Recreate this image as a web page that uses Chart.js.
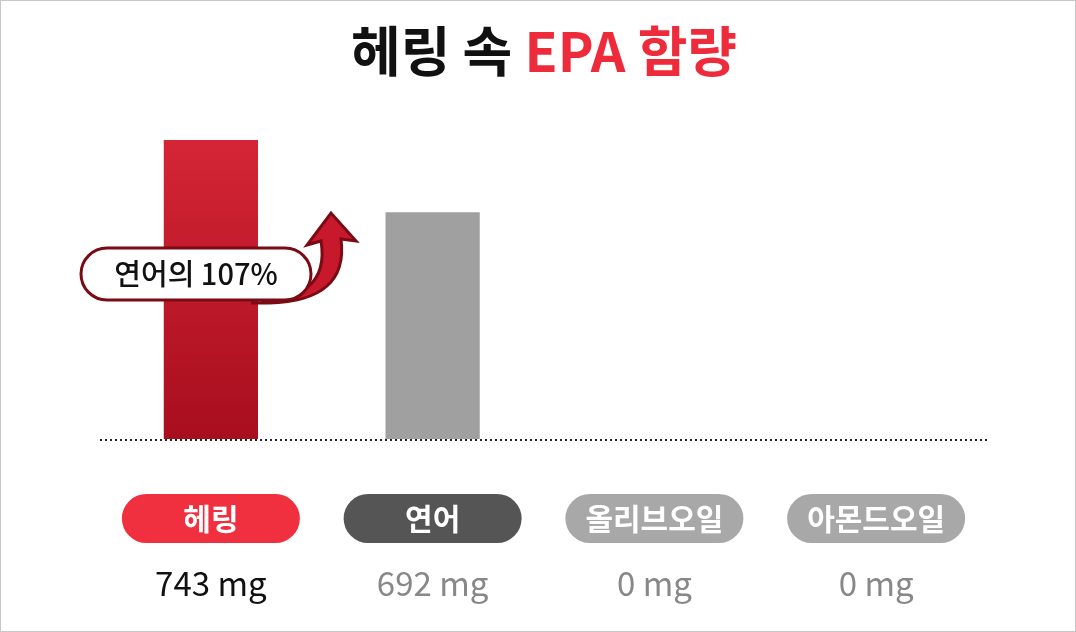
<!DOCTYPE html><html><head><meta charset="utf-8">
<script src="https://cdn.jsdelivr.net/npm/chart.js@4"></script>
<style>html,body{margin:0;background:#fff}#w{position:relative;width:1074px;height:630px;border:1px solid #c8c8c8}</style></head>
<body><div id="w"><canvas id="c" width="1074" height="630"></canvas></div>
<script>
const categories=['헤링','연어','올리브오일','아몬드오일'];
const values=[743,692,0,0];
const valueLabels=['743 mg','692 mg','0 mg','0 mg'];
const calloutText='연어의 107%';
const F='"Noto Sans CJK KR","Noto Sans",sans-serif';
const pillColors=['#f0303f','#555555','#a8a8a8','#a8a8a8'];
const valColors=['#111','#888','#888','#888'];
const deco={id:'deco',afterDraw(ch){
 const c=ch.ctx,x=ch.scales.x,y=ch.scales.y,a=ch.chartArea;
 c.save();
 c.font='bold 54px '+F;c.textBaseline='middle';
 const t1='헤링 속 ',t2='EPA 함량';const w1=c.measureText(t1).width,w2=c.measureText(t2).width;
 let sx=543-(w1+w2)/2;c.fillStyle='#111';c.textAlign='left';c.fillText(t1,sx,50);c.fillStyle='#ee2b3b';c.fillText(t2,sx+w1,50);
 c.strokeStyle='#222';c.lineWidth=2;c.setLineDash([2,3]);c.beginPath();c.moveTo(a.left,y.getPixelForValue(y.min)+1);c.lineTo(a.right,y.getPixelForValue(y.min)+1);c.stroke();c.setLineDash([]);
 categories.forEach((cat,i)=>{const cx=x.getPixelForValue(i);
  c.fillStyle=pillColors[i];c.beginPath();c.roundRect(cx-89,493,178,49,24.5);c.fill();
  c.fillStyle='#fff';c.font='bold 30px '+F;c.textAlign='center';c.fillText(cat,cx,518);
  c.fillStyle=valColors[i];c.font='33px '+F;c.fillText(valueLabels[i],cx,582);});
 c.fillStyle='#c8182b';c.strokeStyle='#7a0a14';c.lineWidth=3;
 c.beginPath();c.moveTo(250,302);c.quadraticCurveTo(330,300,320,240);c.lineTo(306,244);c.lineTo(330,212);c.lineTo(355,240);c.lineTo(340,238);c.quadraticCurveTo(348,300,268,302);c.closePath();c.fill();c.stroke();
 c.fillStyle='#fff';c.strokeStyle='#7a0a14';c.lineWidth=3;c.beginPath();c.roundRect(80,247,230,52,26);c.fill();c.stroke();
 c.fillStyle='#111';c.font='500 29px '+F;c.textAlign='center';c.fillText(calloutText,195,273);
 c.restore();}};
new Chart(document.getElementById('c'),{type:'bar',plugins:[deco],
 data:{labels:categories,datasets:[{data:values,barPercentage:0.85,categoryPercentage:0.5,
  backgroundColor:(ctx)=>{if(ctx.dataIndex!==0)return '#a0a0a0';const a=ctx.chart.chartArea;if(!a)return '#c01528';const g=ctx.chart.ctx.createLinearGradient(0,139,0,437);g.addColorStop(0,'#d42535');g.addColorStop(1,'#a80e1e');return g;}}]},
 options:{responsive:false,animation:false,layout:{padding:{left:99,right:88,top:100,bottom:192}},
  plugins:{legend:{display:false},tooltip:{enabled:false}},
  scales:{x:{display:false},y:{display:false,min:532,max:770.6}}}});
</script></body></html>
